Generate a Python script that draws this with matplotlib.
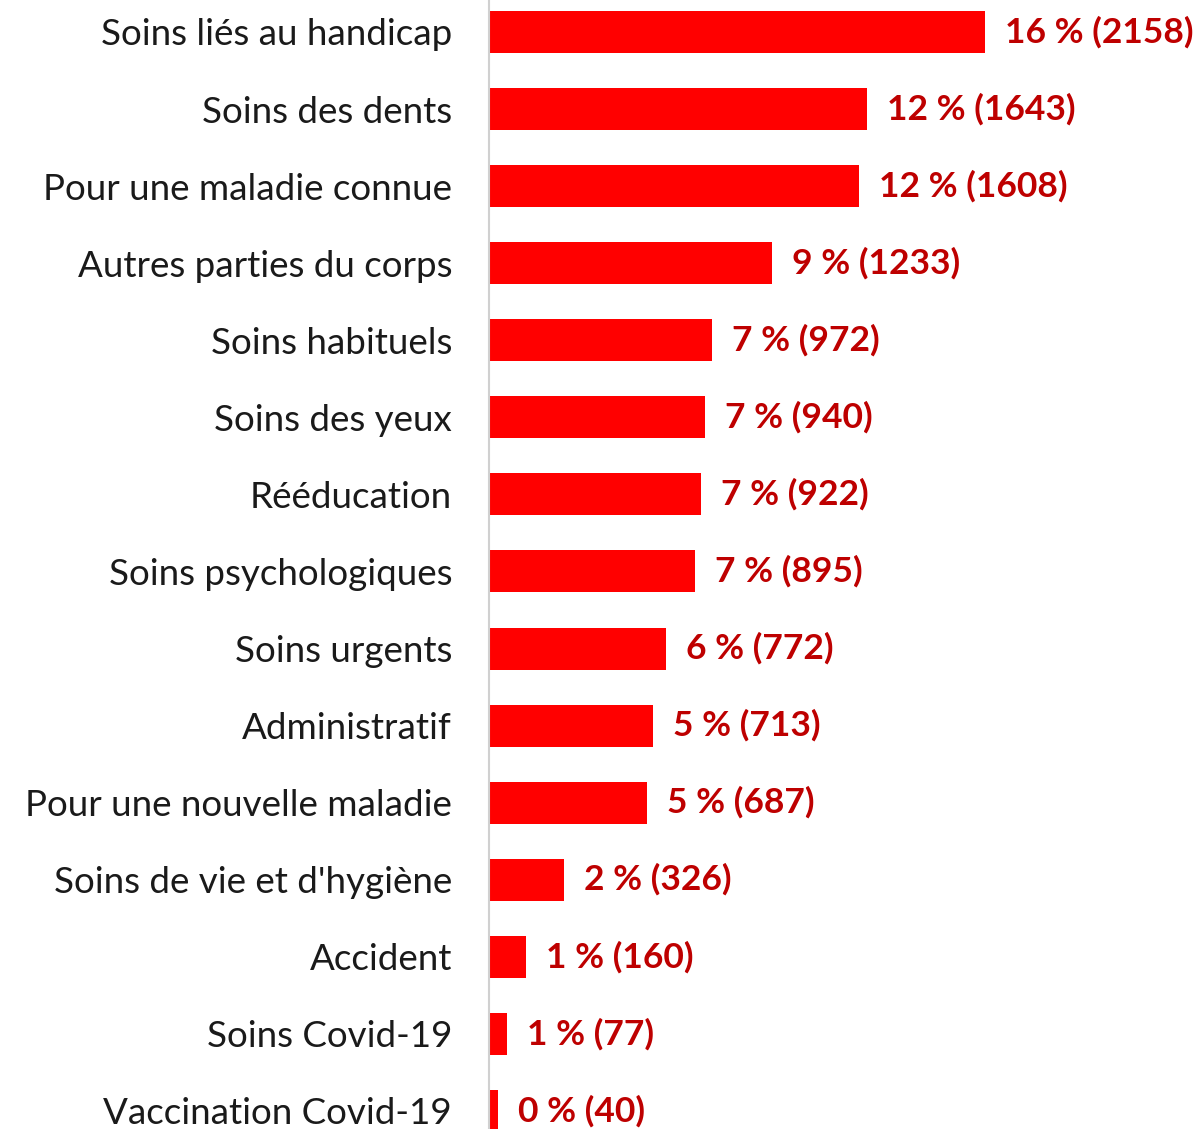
import matplotlib
matplotlib.use("Agg")
import matplotlib.pyplot as plt

categories = ["Soins liés au handicap", "Soins des dents", "Pour une maladie connue",
              "Autres parties du corps", "Soins habituels", "Soins des yeux",
              "Rééducation", "Soins psychologiques", "Soins urgents", "Administratif",
              "Pour une nouvelle maladie", "Soins de vie et d'hygiène", "Accident",
              "Soins Covid-19", "Vaccination Covid-19"]
counts = [2158, 1643, 1608, 1233, 972, 940, 922, 895, 772, 713, 687, 326, 160, 77, 40]
percents = [16, 12, 12, 9, 7, 7, 7, 7, 6, 5, 5, 2, 1, 1, 0]

fig = plt.figure(figsize=(12.03, 11.29), dpi=100)
ax = fig.add_axes([489/1203, 0, 1 - 489/1203, 1])
y = list(range(len(categories)))
ax.barh(y, counts, height=0.545, color="#FF0000")
ax.set_ylim(14.234, -0.415)
ax.set_xlim(0, 3107)
for s in ["top", "right", "bottom"]:
    ax.spines[s].set_visible(False)
ax.spines["left"].set_color("#D0D0D0")
ax.spines["left"].set_linewidth(1.5)
ax.set_xticks([])
ax.set_yticks(y)
ax.set_yticklabels(categories, fontsize=26.5, family="Lato", color="#1a1a1a")
ax.tick_params(axis="y", length=0, pad=26.6)
for i, (c, p) in enumerate(zip(counts, percents)):
    ax.annotate(f"{p} % ({c})", (c, i), xytext=(20, 0), textcoords="offset pixels",
                va="center", ha="left", fontsize=25.5, fontweight="bold",
                family="Lato", color="#BE0000")
fig.savefig("out.png", dpi=100)
